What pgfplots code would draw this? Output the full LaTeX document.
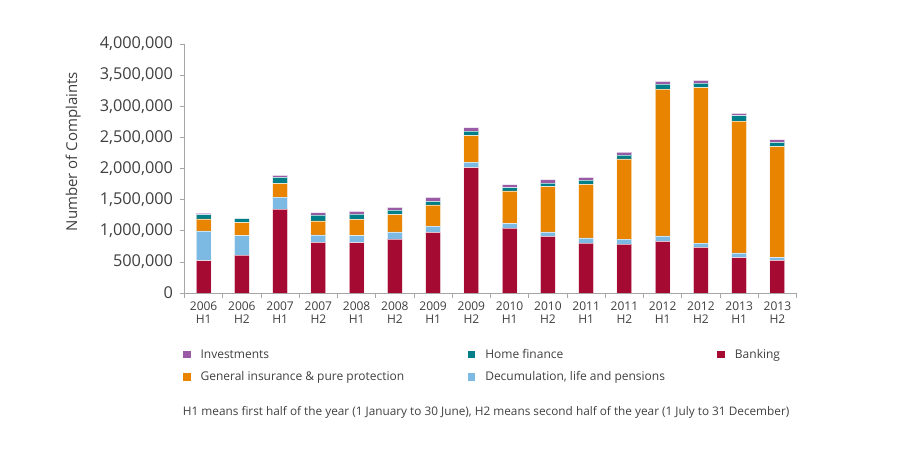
\documentclass[border=0pt]{standalone}
\usepackage{fontspec}
\setmainfont{Open Sans}
\usepackage{pgfplots}
\usepackage{pgfplotstable}
\pgfplotsset{compat=1.18}

\definecolor{bank}{HTML}{A50A32}
\definecolor{decum}{HTML}{7CBAE4}
\definecolor{geni}{HTML}{E88400}
\definecolor{homef}{HTML}{007F88}
\definecolor{invest}{HTML}{9A5AA6}
\definecolor{txt}{HTML}{404040}
\definecolor{axgray}{HTML}{A6A6A6}

% complaints per half year
\pgfplotstableread{
x  bank     dec     gi       home   inv
0  519000   477000  193000   69000  27000
1  610000   311000  209000   64000  6000
2  1349000  193000  214000   102000 32000
3  814000   118000  225000   96000  37000
4  808000   113000  263000   85000  43000
5  867000   113000  278000   75000  43000
6  975000   101000  338000   59000  64000
7  2013000  91000   423000   75000  54000
8  1044000  75000   520000   53000  48000
9  910000   70000   728000   59000  53000
10 803000   81000   862000   69000  43000
11 787000   80000   1286000  64000  48000
12 830000   86000   2361000  80000  44000
13 734000   69000   2495000  75000  44000
14 567000   76000   2120000  85000  39000
15 525000   48000   1777000  71000  42000
}\complaints

\newcommand{\colA}[1]{\makebox[267bp][l]{#1}}
\newcommand{\colB}[1]{\makebox[232bp][l]{#1}}

\begin{document}
\begin{tikzpicture}
\useasboundingbox (0,0) rectangle (920bp,460bp);
\begin{axis}[
    name=ax,
    at={(184.5bp,167bp)}, anchor=south west,
    width=612bp, height=249bp, scale only axis,
    ybar stacked, bar width=15bp,
    xmin=-0.5, xmax=15.5, ymin=0, ymax=4000000,
    axis lines*=left,
    axis line style={draw=axgray, line width=0.7bp},
    tick style={draw=axgray, line width=0.7bp},
    tick align=outside, major tick length=5bp,
    xtick={-0.5,0.5,...,15.5},
    x tick label as interval,
    xticklabels={2006\\H1,2006\\H2,2007\\H1,2007\\H2,2008\\H1,2008\\H2,2009\\H1,2009\\H2,2010\\H1,2010\\H2,2011\\H1,2011\\H2,2012\\H1,2012\\H2,2013\\H1,2013\\H2},
    xticklabel style={align=center, font=\fontsize{12bp}{13.5bp}\selectfont, text=txt},
    ytick={0,500000,...,4000000},
    scaled y ticks=false,
    yticklabel style={font=\fontsize{16.3bp}{17bp}\selectfont, text=txt, xshift=-3bp},
    /pgf/number format/.cd, fixed, 1000 sep={,}, assume math mode=true,
    /pgfplots/.cd,
    ylabel={Number of Complaints},
    ylabel style={font=\fontsize{15bp}{17bp}\selectfont, text=txt, at={(axis description cs:-0.182,0.568)}, anchor=center},
    every axis plot/.append style={draw=white, draw opacity=0.6, line width=0.8bp},
    legend columns=3,
    legend image code/.code={\fill[#1, draw=none] (0bp,-3.85bp) rectangle (7.7bp,3.85bp);},
    legend style={at={(axis description cs:-0.003,-0.217)}, anchor=north west,
        draw=none, fill=none, inner sep=0pt, row sep=7.5bp,
        nodes={inner xsep=0pt},
        font=\fontsize{12bp}{14bp}\selectfont, text=txt,
        /tikz/every odd column/.append style={column sep=10bp},
        /tikz/every even column/.append style={column sep=0bp}},
]
% legend in the reference's order
\addlegendimage{fill=invest, draw=none}
\addlegendentry{\colA{Investments}}
\addlegendimage{fill=homef, draw=none}
\addlegendentry{\colB{Home finance}}
\addlegendimage{fill=bank, draw=none}
\addlegendentry{Banking}
\addlegendimage{fill=geni, draw=none}
\addlegendentry{\colA{General insurance \& pure protection}}
\addlegendimage{fill=decum, draw=none}
\addlegendentry{\colB{Decumulation, life and pensions}}

\addplot[fill=bank] table[x=x, y=bank] {\complaints};
\addplot[fill=decum] table[x=x, y=dec] {\complaints};
\addplot[fill=geni] table[x=x, y=gi] {\complaints};
\addplot[fill=homef] table[x=x, y=home] {\complaints};
\addplot[fill=invest] table[x=x, y=inv] {\complaints};
\end{axis}
\node[anchor=west, inner sep=0pt, text=txt, font=\fontsize{11.8bp}{13bp}\selectfont]
    at ([xshift=-1.8bp, yshift=-119bp]ax.south west)
    {H1 means first half of the year (1 January to 30 June), H2 means second half of the year (1 July to 31 December)};
\end{tikzpicture}
\end{document}
